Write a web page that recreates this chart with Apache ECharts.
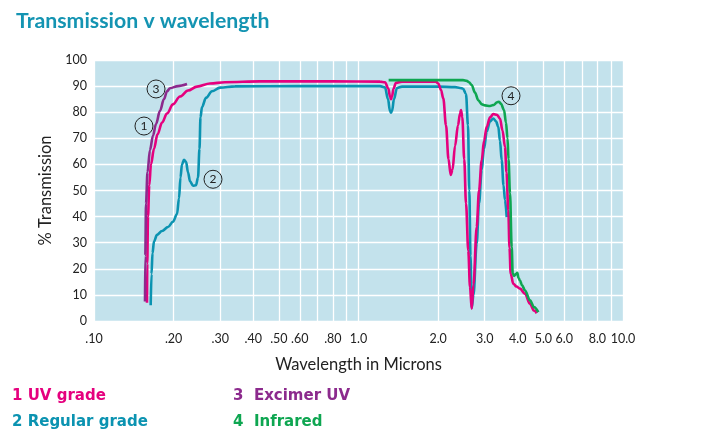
<!DOCTYPE html>
<html><head><meta charset="utf-8">
<script src="https://cdn.jsdelivr.net/npm/echarts@6/dist/echarts.min.js"></script>
<style>html,body{margin:0;padding:0;background:#fff}#c{width:724px;height:447px}</style>
</head><body><div id="c"></div>
<script>
// ---- data (wavelength in microns, % transmission) ----
const uvWave = [0.1586,0.1590,0.1600,0.1618,0.1642,0.1686,0.1738,0.1808,0.1888,0.1989,0.2114,0.2267,0.2451,0.2745,0.3128,0.4242,0.8,1.206,1.259,1.298,1.315,1.327,1.339,1.356,1.386,1.46,1.963,2.003,2.051,2.092,2.142,2.189,2.232,2.267,2.317,2.378,2.420,2.441,2.469,2.51,2.55,2.60,2.64,2.679,2.721,2.798,2.855,2.923,2.982,3.053,3.142,3.233,3.339,3.427,3.503,3.580,3.627,3.684,3.723,3.762,3.848,3.957,4.079,4.261,4.450,4.608,4.718];
const uvTrans = [7,22,40,52,60,66,71.5,76,79.5,83,86,88.3,89.8,91,91.5,91.8,91.8,91.7,91.5,89,86,85,86,89,91.3,91.7,91.7,91,88.5,85.3,75,62,56,58,67,75,79.5,80.8,78,62,45,27,13,4.7,14,36,50,61.6,69,74.4,78,79.3,79,77.6,73,66.7,57,42.4,28,18.1,14.3,13.2,12.4,10.4,6.6,4,3];

const regWave = [0.1638,0.1650,0.1664,0.1686,0.1731,0.1808,0.1905,0.1989,0.2060,0.2096,0.2123,0.2151,0.2189,0.2228,0.2267,0.2307,0.2368,0.2430,0.2473,0.2505,0.2527,0.2561,0.2651,0.2793,0.2995,0.3413,0.6,1.206,1.259,1.293,1.315,1.327,1.339,1.362,1.398,1.46,2.0,2.317,2.420,2.484,2.549,2.594,2.624,2.651,2.679,2.721,2.798,2.855,2.923,2.982,3.053,3.142,3.233,3.310,3.377,3.427,3.479,3.534,3.580,3.633];
const regTrans = [6,18,26,30.5,33,34.5,36,38,41,47,55,60,61.8,61,57,53.5,51.8,52,55,66,78,82,85.5,88,89.4,89.9,90,90,89.5,85,80.5,79.8,80.5,85,89.3,89.8,89.8,89.6,89.3,89,87,75,50,25,5,10,29.7,45,57.8,66,72.5,76.5,77.6,76.5,74.4,69,61.6,52,46.3,39.8];

const excWave = [0.1559,0.1563,0.1573,0.1593,0.1628,0.1671,0.1716,0.1776,0.1839,0.1888,0.1938,0.2078,0.2247];
const excTrans = [7.5,25,45,57,65.5,71,75.5,80.5,85,88,89.2,90,90.8];

const irWave = [1.300,1.6,2.2,2.484,2.565,2.617,2.679,2.757,2.837,2.930,3.008,3.142,3.253,3.339,3.398,3.457,3.549,3.611,3.659,3.691,3.739,3.795,3.828,3.872,3.940,3.985,4.026,4.079,4.151,4.261,4.450,4.608,4.784];
const irTrans = [92.3,92.3,92.3,92.3,92,91.5,90.4,87.5,84.6,83,82.6,82.4,82.8,83.8,84,83.2,80.8,76,70,62,49,28.3,18.2,17.3,18,18.5,16.5,15.5,13.8,11.7,7.9,5.3,3.4];

// curve labels (circled numbers) in data coordinates
const curveLabelText = ['1','2','3','4'];
const curveLabelWave = [0.1545,0.2818,0.1716,3.772];
const curveLabelTrans = [74.7,54.3,88.9,86.3];

// axis ticks
const xGridValues = [0.1,0.2,0.3,0.4,0.5,0.6,0.7,0.8,0.9,1,2,3,4,5,6,7,8,9,10];
const xLabelValues = [0.1,0.2,0.3,0.4,0.5,0.6,0.8,1,2,3,4,5,6,8,10];
const xLabelTexts = ['.10','.20','.30','.40','.50','.60','.80','1.0','2.0','3.0','4.0','5.0','6.0','8.0','10.0'];

const seriesNames = ['UV grade','Regular grade','Excimer UV','Infrared'];
const legendLabels = ['1 UV grade','2 Regular grade','3  Excimer UV','4  Infrared'];

// ---- styles ----
const C_PINK = '#e5007e', C_TEAL = '#0b93b1', C_PURPLE = '#8c2a8d', C_GREEN = '#0ea651';
const BG = '#c3e2ec';
const FONT = 'Lato';
const LFONT = '"DejaVu Sans"';

function pairs(xs, ys){ return xs.map((x,i)=>[x, ys[i]]); }

const chart = echarts.init(document.getElementById('c'));
const lineBase = { type:'line', xAxisIndex:0, yAxisIndex:0, showSymbol:false, symbol:'none', smooth:0.35, smoothMonotone:'x', silent:true };

function mark(i){
  return { symbol:'circle', symbolSize:18, silent:true,
    itemStyle:{ color:BG, borderColor:'#222', borderWidth:1 },
    label:{ show:true, position:'inside', formatter:curveLabelText[i], color:'#222', fontSize:12, fontFamily:FONT },
    data:[{ coord:[curveLabelWave[i], curveLabelTrans[i]] }] };
}

const option = {
  animation:false,
  title:{ text:'Transmission v wavelength', left:11, top:6,
    textStyle:{ fontFamily:FONT, fontWeight:'bold', fontSize:21.3, color:'#1494b2' } },
  grid:{ left:94, right:101, top:60, bottom:126, show:true, backgroundColor:BG, borderWidth:0, containLabel:false },
  xAxis:[
    { type:'log', min:0.1, max:10, logBase:10, show:false },
    { type:'value', min:-1, max:1, position:'bottom',
      name:'Wavelength in Microns', nameLocation:'middle', nameGap:35,
      nameTextStyle:{ fontFamily:FONT, fontSize:16.5, color:'#222' },
      axisLine:{ show:false },
      axisTick:{ show:false, customValues: xGridValues.map(v=>Math.log10(v)) },
      axisLabel:{ show:true, margin:11, fontFamily:FONT, fontSize:12.5, color:'#222',
        customValues: xLabelValues.map(v=>Math.log10(v)),
        formatter: function(v){
          let best=0, bd=1e9;
          xLabelValues.forEach((lv,i)=>{ const d=Math.abs(Math.log10(lv)-v); if(d<bd){bd=d;best=i;} });
          return xLabelTexts[best];
        } },
      splitLine:{ show:true, lineStyle:{ color:'#ffffff', width:1.3 } }
    }
  ],
  yAxis:{ type:'value', min:0, max:100, interval:10,
    name:'% Transmission', nameLocation:'middle', nameGap:36,
    nameTextStyle:{ fontFamily:FONT, fontSize:16.5, color:'#222' },
    axisLine:{ show:false }, axisTick:{ show:false },
    axisLabel:{ margin:7, fontFamily:FONT, fontSize:12.5, color:'#222' },
    splitLine:{ show:true, lineStyle:{ color:'#ffffff', width:1.3 } } },
  series:[
    Object.assign({}, lineBase, { name:seriesNames[1], data:pairs(regWave, regTrans), z:2,
      lineStyle:{ color:C_TEAL, width:2.6 }, markPoint:mark(1) }),
    Object.assign({}, lineBase, { name:seriesNames[0], data:pairs(uvWave, uvTrans), z:3,
      lineStyle:{ color:C_PINK, width:2.6 }, markPoint:mark(0) }),
    Object.assign({}, lineBase, { name:seriesNames[3], data:pairs(irWave, irTrans), z:4,
      lineStyle:{ color:C_GREEN, width:2.6 }, markPoint:mark(3) }),
    Object.assign({}, lineBase, { name:seriesNames[2], data:pairs(excWave, excTrans), z:5,
      lineStyle:{ color:C_PURPLE, width:2.6 }, markPoint:mark(2) })
  ],
  graphic:[
    { type:'text', left:12, top:389, style:{ text:legendLabels[0], fill:C_PINK, font:'bold 15px '+LFONT } },
    { type:'text', left:12, top:415, style:{ text:legendLabels[1], fill:C_TEAL, font:'bold 15px '+LFONT } },
    { type:'text', left:233, top:389, style:{ text:legendLabels[2], fill:C_PURPLE, font:'bold 15px '+LFONT } },
    { type:'text', left:233, top:415, style:{ text:legendLabels[3], fill:C_GREEN, font:'bold 15px '+LFONT } }
  ]
};
chart.setOption(option);
</script></body></html>
